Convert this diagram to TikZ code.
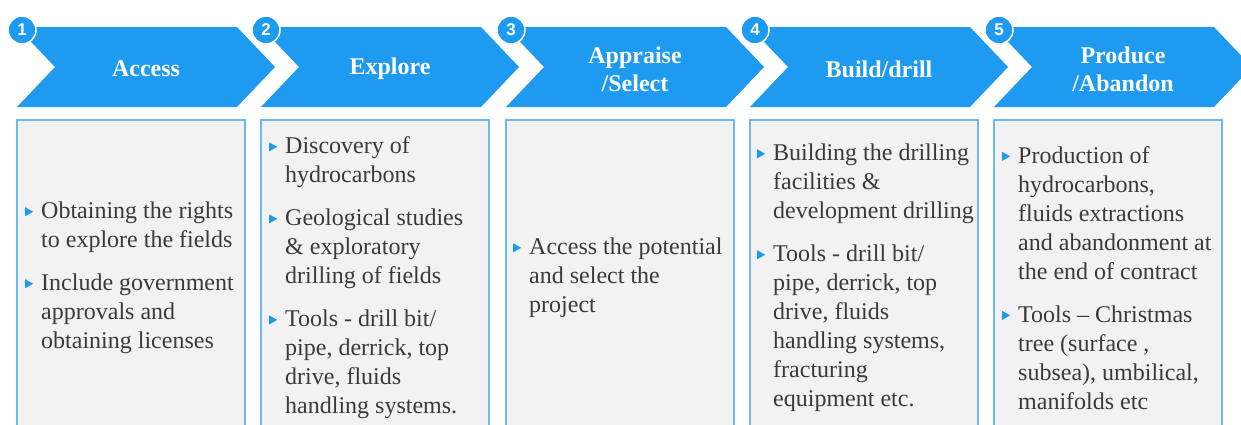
\documentclass[tikz,border=0pt]{standalone}
\usepackage{fontspec}
\setmainfont{Liberation Serif}
\newfontfamily\bodyfont{Liberation Serif}
\newfontfamily\numfont{Liberation Sans}
\definecolor{chev}{HTML}{1E9BF0}
\definecolor{boxfill}{HTML}{F2F2F2}
\definecolor{boxline}{HTML}{6BBBF0}
\definecolor{bodytext}{HTML}{3A3A3A}
\newcommand{\tri}{\tikz[baseline=0pt,x=1pt,y=1pt]\fill[chev] (0,2.5)--(0,11.5)--(8,7)--cycle;}
\newcommand{\bl}[1]{\makebox[16pt][l]{\tri}#1}
\newcommand{\cl}[1]{\hspace*{16pt}#1}
\tikzset{
  chevron/.style={fill=chev, draw=none},
  stagebox/.style={fill=boxfill, draw=boxline, line width=1.2pt},
  head/.style={text=white, font=\bodyfont\fontsize{24}{28}\selectfont\bfseries, align=center, inner sep=0pt},
  badge/.style={circle, fill=chev, draw=white, line width=1.5pt, minimum size=28pt, inner sep=0pt, text=white, font=\numfont\fontsize{17}{17}\selectfont\bfseries},
  body/.style={text=bodytext, font=\bodyfont\fontsize{24}{29}\selectfont, align=left, inner sep=0pt, anchor=west}
}
\begin{document}
\begin{tikzpicture}[x=1pt,y=-1pt]
\useasboundingbox (0,0) rectangle (1241,424);
\clip (0,0) rectangle (1241,424);
\fill[white] (0,0) rectangle (1241,424);
% chevrons
\foreach \i/\L in {1/17,2/261,3/506,4/750,5/994}{
  \fill[chevron] (\L,27) -- (\L+220,27) -- (\L+258,67) -- (\L+220,107) -- (\L,107) -- (\L+38,67) -- cycle;
  \draw[stagebox] (\L,120) rectangle (\L+228,432);
  \node[badge] (n\i) at (\L+5,30) {\i};
}
\node[head] (h1) at (146,69) {Access};
\node[head] (h2) at (390,69) {Explore};
\node[head] (h3) at (635,69) {Appraise\\/Select};
\node[head] (h4) at (879,69) {Build/drill};
\node[head] (h5) at (1123,69) {Produce\\/Abandon};
% body texts
\node[body] (b1) at (25,278) {\bl{Obtaining the rights}\\ \cl{to explore the fields}\\[14pt]
  \bl{Include government}\\ \cl{approvals and}\\ \cl{obtaining licenses}};
\node[body] (b2) at (269,278) {\bl{Discovery of}\\ \cl{hydrocarbons}\\[14pt]
  \bl{Geological studies}\\ \cl{\& exploratory}\\ \cl{drilling of fields}\\[14pt]
  \bl{Tools - drill bit/}\\ \cl{pipe, derrick, top}\\ \cl{drive, fluids}\\ \cl{handling systems.}};
\node[body] (b3) at (513,278) {\bl{Access the potential}\\ \cl{and select the}\\ \cl{project}};
\node[body] (b4) at (757,278) {\bl{Building the drilling}\\ \cl{facilities \&}\\ \cl{development drilling}\\[14pt]
  \bl{Tools - drill bit/}\\ \cl{pipe, derrick, top}\\ \cl{drive, fluids}\\ \cl{handling systems,}\\ \cl{fracturing}\\ \cl{equipment etc.}};
\node[body] (b5) at (1002,278) {\bl{Production of}\\ \cl{hydrocarbons,}\\ \cl{fluids extractions}\\ \cl{and abandonment at}\\ \cl{the end of contract}\\[14pt]
  \bl{Tools – Christmas}\\ \cl{tree (surface ,}\\ \cl{subsea), umbilical,}\\ \cl{manifolds etc}};
\end{tikzpicture}
\end{document}
